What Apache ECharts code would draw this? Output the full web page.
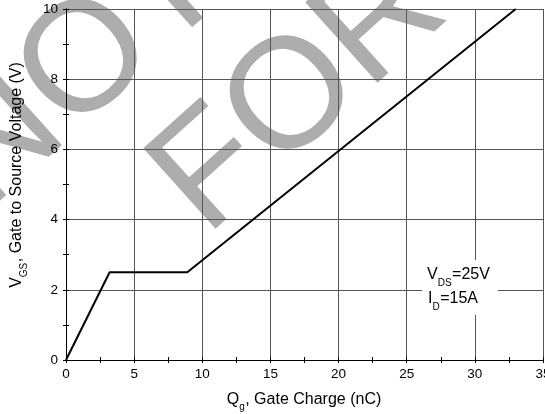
<!DOCTYPE html>
<html>
<head>
<meta charset="utf-8">
<script src="https://cdn.jsdelivr.net/npm/echarts@6/dist/echarts.min.js"></script>
<style>
html,body{margin:0;padding:0;background:#fff;}
#chart{width:545px;height:414px;}
</style>
</head>
<body>
<div id="chart"></div>
<script>
// Data
const gateCharge = [0, 3.2, 8.9, 33];      // Qg (nC)
const gateVoltage = [0, 2.5, 2.5, 10];     // VGS (V)
const xTicks = [0, 5, 10, 15, 20, 25, 30, 35];
const yTicks = [0, 2, 4, 6, 8, 10];

const FONT = '"Liberation Sans", Arial, sans-serif';
const chart = echarts.init(document.getElementById('chart'), null, {renderer: 'canvas'});

const cv = document.createElement('canvas').getContext('2d');
function tw(t, s) { cv.font = s + 'px ' + FONT; return cv.measureText(t).width; }

function subText(parts, x0, y, size, subSize, subDy, z) {
  const els = [];
  let x = x0;
  parts.forEach(p => {
    const s = p.sub ? subSize : size;
    els.push({type: 'text', z: z, x: x, y: y + (p.sub ? subDy : 0),
      style: {text: p.t, font: s + 'px ' + FONT, fill: '#000', textAlign: 'left', textVerticalAlign: 'middle'}});
    x += tw(p.t, s) + (p.sub ? 0.5 : 0);
  });
  return els;
}
function partsWidth(parts, size, subSize) {
  return parts.reduce((a, p) => a + tw(p.t, p.sub ? subSize : size) + (p.sub ? 0.5 : 0), 0);
}

const xTitleParts = [{t: 'Q'}, {t: 'g', sub: true}, {t: ', Gate Charge (nC)'}];
const yTitleParts = [{t: 'V'}, {t: 'GS', sub: true}, {t: ', Gate to Source Voltage (V)'}];
const note1 = [{t: 'V'}, {t: 'DS', sub: true}, {t: '=25V'}];
const note2 = [{t: 'I'}, {t: 'D', sub: true}, {t: '=15A'}];

const TS = 16, SS = 10;
const xw = partsWidth(xTitleParts, TS, SS);
const xTitle = subText(xTitleParts, 304 - xw / 2, 399.5, TS, SS, 8, 5);
const yw = partsWidth(yTitleParts, TS, SS);
const yTitle = subText(yTitleParts, -yw / 2, 0, TS, SS, 8, 5);
const n1 = subText(note1, 427, 275, 16, 10, 8, 5);
const n2 = subText(note2, 428, 299, 16, 10, 8, 5);

// background watermark
const ROT = 42 * Math.PI / 180;
const wm = (txt, x, y) => ({type: 'text', z: -10, x: x, y: y, rotation: ROT,
  style: {text: txt, font: '157px ' + FONT, fill: '#adadad', textAlign: 'left', textVerticalAlign: 'middle'}});
const watermark = [wm('NOT RECOMMENDED', -42, 180), wm('FOR NEW DESIGN', 177, 205)];

const tickAxis = (pos, max, interval, showLine) => ({
  type: 'value', position: pos, min: 0, max: max, interval: interval,
  axisLine: {show: showLine, lineStyle: {color: '#000', width: 1}},
  axisTick: {show: true, inside: true, length: 3, lineStyle: {color: '#000', width: 1}},
  axisLabel: {show: false}, splitLine: {show: false}
});

const xMax = xTicks[xTicks.length - 1], yMax = yTicks[yTicks.length - 1];

chart.setOption({
  animation: false,
  backgroundColor: '#fff',
  grid: {left: 66, right: 2, top: 9, bottom: 54, containLabel: false, outerBoundsMode: 'none'},
  xAxis: [
    {
      type: 'value', position: 'bottom', min: xTicks[0], max: xMax, interval: 5,
      axisLine: {show: true, lineStyle: {color: '#000', width: 1}},
      axisTick: {show: false},
      splitLine: {show: true, lineStyle: {color: '#555', width: 1}},
      axisLabel: {color: '#000', fontSize: 13.5, fontFamily: FONT, margin: 7}
    },
    tickAxis('top', xMax, 2.5, true),
    tickAxis('bottom', xMax, 2.5, false)
  ],
  yAxis: [
    {
      type: 'value', position: 'left', min: yTicks[0], max: yMax, interval: 2,
      axisLine: {show: true, lineStyle: {color: '#000', width: 1}},
      axisTick: {show: false},
      splitLine: {show: true, lineStyle: {color: '#555', width: 1}},
      axisLabel: {color: '#000', fontSize: 13.5, fontFamily: FONT, margin: 8}
    },
    tickAxis('right', yMax, 1, true),
    tickAxis('left', yMax, 1, false)
  ],
  series: [{
    type: 'line',
    xAxisIndex: 0, yAxisIndex: 0,
    data: gateCharge.map((q, i) => [q, gateVoltage[i]]),
    showSymbol: false,
    lineStyle: {color: '#000', width: 2},
    z: 3
  }],
  graphic: [
    ...watermark,
    {type: 'rect', z: 4, shape: {x: 422, y: 260, width: 76, height: 55}, style: {fill: '#fff'}},
    ...n1, ...n2,
    ...xTitle,
    {type: 'group', x: 16.5, y: 175, rotation: Math.PI / 2, z: 5, children: yTitle}
  ]
});
</script>
</body>
</html>
